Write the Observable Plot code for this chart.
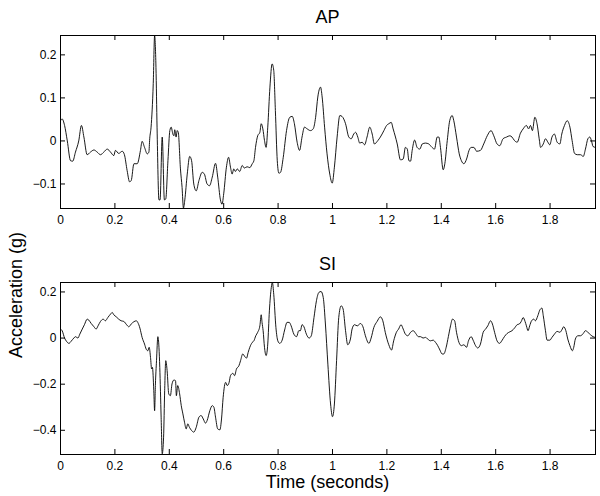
<!DOCTYPE html>
<html><head><meta charset="utf-8">
<script src="https://cdn.jsdelivr.net/npm/d3@7"></script>
<script src="https://cdn.jsdelivr.net/npm/@observablehq/plot@0.6"></script>
<style>
body{margin:0;background:#fff;}
#wrap{position:relative;width:600px;height:496px;font-family:"Liberation Sans",Arial,Helvetica,sans-serif;color:#000;overflow:hidden;}
.lbl{position:absolute;white-space:nowrap;line-height:1;font-size:18px;transform:translate(-50%,-50%);}
.panel{position:absolute;left:0;}
</style></head><body><div id="wrap"></div>
<script>
// ---- data ----
const panelTitles = ["AP", "SI"];
const xLabel = "Time (seconds)";
const yLabel = "Acceleration (g)";
const timeTicks = [0, 0.2, 0.4, 0.6, 0.8, 1, 1.2, 1.4, 1.6, 1.8];
const apTicks = [-0.1, 0, 0.1, 0.2];
const siTicks = [-0.4, -0.2, 0, 0.2];
const timeDomain = [0, 1.967];
const apDomain = [-0.157, 0.245];
const siDomain = [-0.505, 0.241];

const apTime = [
0,0.006,0.015,0.025,0.037,0.045,0.055,0.067,0.077,0.086,
0.098,0.110,0.123,0.135,0.147,0.159,0.172,0.184,0.196,0.202,
0.214,0.227,0.235,0.245,0.254,0.260,0.270,0.282,0.294,0.300,
0.309,0.319,0.325,0.328,0.333,0.341,0.346,0.351,0.355,0.362,
0.366,0.374,0.382,0.387,0.395,0.402,0.407,0.413,0.417,0.420,
0.425,0.429,0.433,0.441,0.447,0.452,0.457,0.466,0.475,0.482,
0.490,0.499,0.509,0.521,0.529,0.539,0.548,0.558,0.570,0.578,
0.588,0.594,0.600,0.610,0.618,0.625,0.631,0.637,0.643,0.650,
0.659,0.668,0.676,0.686,0.696,0.705,0.711,0.717,0.725,0.733,
0.738,0.744,0.750,0.756,0.762,0.770,0.778,0.784,0.790,0.797,
0.803,0.809,0.819,0.831,0.843,0.852,0.860,0.870,0.879,0.888,
0.897,0.907,0.919,0.929,0.938,0.946,0.956,0.962,0.971,0.980,
0.990,0.999,1.007,1.017,1.027,1.035,1.048,1.060,1.069,1.078,
1.085,1.093,1.100,1.109,1.118,1.127,1.137,1.146,1.154,1.167,
1.176,1.189,1.199,1.207,1.216,1.223,1.238,1.250,1.260,1.268,
1.275,1.281,1.287,1.293,1.302,1.311,1.321,1.330,1.342,1.354,
1.366,1.375,1.385,1.391,1.397,1.407,1.413,1.422,1.431,1.440,
1.446,1.456,1.466,1.474,1.483,1.493,1.502,1.510,1.520,1.530,
1.544,1.556,1.569,1.583,1.593,1.605,1.615,1.627,1.640,1.652,
1.660,1.669,1.679,1.691,1.701,1.713,1.721,1.728,1.735,1.744,
1.752,1.760,1.765,1.775,1.783,1.792,1.799,1.807,1.816,1.826,
1.836,1.843,1.853,1.863,1.873,1.881,1.890,1.900,1.912,1.922,
1.930,1.939,1.946,1.952,1.958,1.967];
const apAccel = [
0.047,0.051,0.036,0.000,-0.046,-0.047,-0.026,0.000,0.036,0.009,
-0.032,-0.026,-0.021,-0.026,-0.032,-0.026,-0.019,-0.026,-0.034,-0.022,
-0.029,-0.024,-0.032,-0.069,-0.095,-0.092,-0.053,-0.053,-0.022,-0.001,
-0.015,-0.030,-0.026,0.005,0.032,0.133,0.245,0.171,0.032,-0.137,
-0.137,0.009,-0.137,-0.135,-0.046,0.024,0.032,0.016,0.012,0.026,
0.009,0.024,0.020,-0.065,-0.108,-0.156,-0.137,-0.077,-0.036,-0.046,
-0.100,-0.116,-0.092,-0.073,-0.077,-0.100,-0.104,-0.084,-0.052,-0.084,
-0.137,-0.147,-0.123,-0.061,-0.038,-0.061,-0.077,-0.065,-0.071,-0.065,
-0.071,-0.057,-0.063,-0.060,-0.062,-0.053,-0.046,-0.015,0.012,0.020,
0.040,0.028,0.001,-0.015,0.032,0.125,0.179,0.164,0.071,-0.046,
-0.075,-0.073,-0.038,0.024,0.055,0.057,0.040,-0.003,-0.022,0.009,
0.032,0.028,0.024,0.028,0.055,0.102,0.125,0.102,0.032,-0.030,
-0.077,-0.098,-0.061,0.009,0.059,0.057,0.040,0.009,0.005,0.016,
0.020,0.009,-0.005,-0.003,-0.009,0.009,0.032,0.016,-0.007,0.001,
0.009,0.024,0.036,0.040,0.043,0.028,-0.007,-0.044,-0.042,-0.015,
-0.019,-0.046,-0.047,-0.022,0.002,-0.015,-0.019,-0.007,-0.005,-0.007,
-0.015,-0.019,0.009,0.009,-0.015,-0.067,-0.053,0.001,0.047,0.059,
0.047,0.009,-0.030,-0.046,-0.053,-0.042,-0.022,-0.015,-0.015,-0.024,
-0.022,-0.007,0.012,0.024,0.012,-0.007,-0.011,0.005,0.009,0.012,
0.009,0.001,-0.003,0.018,0.028,0.036,0.028,0.036,0.024,0.055,
0.040,0.005,-0.015,-0.007,0.005,-0.003,-0.009,0.009,0.016,-0.003,
-0.007,0.016,0.036,0.047,0.032,0.001,-0.029,-0.032,-0.032,-0.036,
-0.019,0.005,0.009,0.001,-0.013,-0.015];

const siTime = [
0,0.006,0.015,0.022,0.031,0.039,0.049,0.055,0.064,0.071,
0.080,0.088,0.098,0.104,0.113,0.123,0.131,0.138,0.147,0.157,
0.165,0.174,0.184,0.190,0.196,0.205,0.214,0.223,0.233,0.243,
0.251,0.260,0.270,0.279,0.284,0.292,0.300,0.309,0.315,0.321,
0.326,0.331,0.335,0.338,0.343,0.346,0.349,0.353,0.358,0.362,
0.365,0.370,0.374,0.379,0.383,0.387,0.392,0.398,0.404,0.410,
0.417,0.423,0.426,0.431,0.438,0.444,0.450,0.456,0.462,0.468,
0.474,0.482,0.490,0.499,0.509,0.517,0.525,0.533,0.539,0.549,
0.558,0.564,0.570,0.578,0.586,0.592,0.598,0.607,0.613,0.620,
0.625,0.634,0.640,0.647,0.656,0.662,0.670,0.678,0.684,0.690,
0.696,0.705,0.711,0.718,0.725,0.733,0.738,0.741,0.745,0.750,
0.756,0.762,0.768,0.775,0.779,0.784,0.792,0.799,0.806,0.815,
0.824,0.833,0.841,0.848,0.858,0.868,0.876,0.882,0.888,0.895,
0.904,0.914,0.922,0.932,0.941,0.950,0.958,0.966,0.974,0.983,
0.993,1.000,1.007,1.015,1.023,1.032,1.039,1.048,1.056,1.066,
1.072,1.081,1.091,1.103,1.112,1.121,1.134,1.142,1.152,1.164,
1.176,1.185,1.194,1.207,1.217,1.225,1.235,1.243,1.252,1.260,
1.268,1.277,1.287,1.297,1.306,1.316,1.324,1.333,1.342,1.350,
1.360,1.370,1.379,1.387,1.395,1.403,1.409,1.418,1.426,1.434,
1.441,1.449,1.456,1.465,1.474,1.483,1.493,1.500,1.510,1.517,
1.526,1.534,1.544,1.554,1.563,1.571,1.581,1.588,1.596,1.605,
1.614,1.624,1.632,1.642,1.652,1.660,1.669,1.679,1.687,1.694,
1.701,1.708,1.713,1.719,1.725,1.732,1.740,1.746,1.755,1.762,
1.770,1.775,1.783,1.789,1.799,1.807,1.816,1.826,1.836,1.843,
1.850,1.858,1.865,1.873,1.882,1.887,1.893,1.902,1.912,1.922,
1.930,1.939,1.949,1.958,1.967];
const siAccel = [
0.039,0.032,0.000,-0.014,-0.023,-0.014,0.000,0.006,0.000,0.017,
0.039,0.058,0.082,0.078,0.063,0.049,0.039,0.053,0.072,0.082,
0.075,0.089,0.104,0.111,0.101,0.092,0.082,0.075,0.072,0.058,
0.049,0.061,0.071,0.075,0.068,0.043,0.003,-0.026,-0.048,-0.055,
-0.040,-0.084,-0.134,-0.127,-0.228,-0.315,-0.199,-0.098,0.006,-0.040,
-0.127,-0.343,-0.502,-0.430,-0.228,-0.098,-0.141,-0.242,-0.250,-0.199,
-0.182,-0.185,-0.250,-0.206,-0.242,-0.293,-0.329,-0.365,-0.394,-0.372,
-0.387,-0.401,-0.408,-0.387,-0.343,-0.336,-0.351,-0.369,-0.358,-0.315,
-0.293,-0.300,-0.343,-0.394,-0.398,-0.351,-0.257,-0.192,-0.206,-0.192,
-0.163,-0.153,-0.163,-0.134,-0.120,-0.098,-0.069,-0.081,-0.087,-0.062,
-0.040,-0.019,-0.012,0.010,0.025,0.053,0.101,0.068,0.032,-0.040,
-0.076,-0.026,0.118,0.219,0.241,0.190,0.046,-0.012,-0.023,-0.009,
0.035,0.068,0.068,0.053,0.017,0.006,0.032,0.032,0.058,0.049,
0.017,0.000,0.010,0.089,0.162,0.198,0.202,0.176,0.061,-0.113,
-0.286,-0.341,-0.286,-0.098,0.089,0.140,0.126,0.032,-0.029,-0.004,
0.039,0.058,0.053,0.063,0.049,0.010,-0.023,0.000,0.046,0.072,
0.092,0.075,0.025,-0.029,-0.052,-0.012,0.025,0.039,0.058,0.039,
0.017,0.010,0.025,0.032,0.020,0.006,0.006,0.000,0.003,-0.004,
-0.012,-0.009,-0.019,-0.033,-0.052,-0.069,-0.069,-0.040,0.006,0.053,
0.082,0.075,0.025,-0.019,-0.033,-0.029,-0.040,-0.012,0.006,-0.009,
-0.033,-0.043,-0.026,0.025,0.039,0.053,0.075,0.061,0.025,-0.012,
-0.023,-0.009,0.006,0.020,0.027,0.032,0.043,0.058,0.061,0.072,
0.089,0.072,0.053,0.032,0.053,0.075,0.082,0.075,0.097,0.121,
0.130,0.097,0.032,-0.009,-0.009,0.003,0.017,0.029,0.025,0.035,
0.049,0.032,-0.004,-0.033,-0.055,-0.040,-0.004,0.010,0.010,0.020,
0.032,0.025,0.014,0.006,0.003];

// ---- drawing ----
const FONT = '"Liberation Sans", Arial, Helvetica, sans-serif';
const fmt = d3.format("~g");
const wrap = document.getElementById("wrap");

function panel(times, values, yDomain, yTicks, top, height, mTop, mBottom) {
  const data = times.map((t, i) => ({t, a: values[i]}));
  const ml = 60, mr = 5, W = 600;
  const innerH = height - mTop - mBottom;
  const innerW = W - ml - mr;
  const tick = 5;
  const chart = Plot.plot({
    width: W, height,
    marginLeft: ml, marginRight: mr, marginTop: mTop, marginBottom: mBottom,
    style: {fontFamily: FONT, fontSize: "12px", color: "#000", background: "transparent", overflow: "visible"},
    x: {domain: timeDomain, label: null},
    y: {domain: yDomain, label: null},
    marks: [
      Plot.line(data, {x: "t", y: "a", stroke: "#000", strokeWidth: 0.9, curve: "monotone-x", clip: true}),
      Plot.frame({stroke: "#000", strokeWidth: 1}),
      Plot.tickX(timeTicks, {x: d => d, insetTop: innerH - tick, stroke: "#000"}),
      Plot.tickX(timeTicks, {x: d => d, insetBottom: innerH - tick, stroke: "#000"}),
      Plot.tickY(yTicks, {y: d => d, insetRight: innerW - tick, stroke: "#000"}),
      Plot.tickY(yTicks, {y: d => d, insetLeft: innerW - tick, stroke: "#000"}),
      Plot.axisX(timeTicks, {anchor: "bottom", tickSize: 0, tickPadding: 7, tickFormat: fmt, label: null, fontSize: 12, fontFamily: FONT}),
      Plot.axisY(yTicks, {anchor: "left", tickSize: 0, tickPadding: 4, tickFormat: fmt, label: null, fontSize: 12, fontFamily: FONT})
    ]
  });
  chart.classList.add("panel");
  chart.style.top = top + "px";
  chart.style.position = "absolute";
  wrap.appendChild(chart);
}

panel(apTime, apAccel, apDomain, apTicks, 0, 230, 35, 22);
panel(siTime, siAccel, siDomain, siTicks, 246, 234, 36, 26);

function label(text, x, y, rotate) {
  const d = document.createElement("div");
  d.className = "lbl";
  d.textContent = text;
  d.style.left = x + "px";
  d.style.top = y + "px";
  if (rotate) d.style.transform = "translate(-50%,-50%) rotate(-90deg)";
  wrap.appendChild(d);
}
label(panelTitles[0], 327.5, 17);
label(panelTitles[1], 327.5, 264);
label(xLabel, 327.5, 482);
label(yLabel, 16, 295, true);
</script></body></html>
